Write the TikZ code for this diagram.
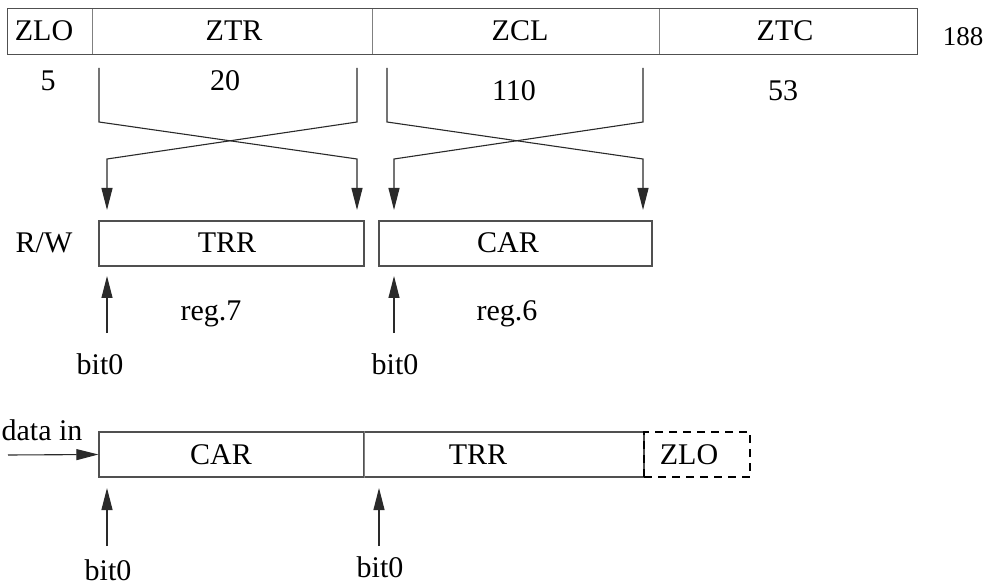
\documentclass[tikz,border=0pt]{standalone}
\usepackage{fontspec}
\setmainfont{Liberation Serif}
\usetikzlibrary{arrows.meta}
\definecolor{boxgray}{HTML}{505050}
\definecolor{divgray}{HTML}{808080}
\definecolor{wiregray}{HTML}{2A2A2A}
\begin{document}
\begin{tikzpicture}[x=1pt,y=-1pt,
  cell/.style={draw=none, inner sep=0pt, minimum height=45pt},
  regbox/.style={draw=boxgray, line width=1.3pt, inner sep=0pt, minimum height=45pt},
  outline/.style={draw=boxgray, line width=1.3pt},
  divider/.style={draw=divgray, line width=1.1pt},
  dashbox/.style={draw=black, line width=1.5pt, dash pattern=on 8pt off 6pt, inner sep=0pt, minimum height=45pt},
  lbl/.style={inner sep=0pt, anchor=base, font=\fontsize{30}{33}\selectfont},
  smalllbl/.style={inner sep=0pt, anchor=base, font=\fontsize{27}{30}\selectfont},
  wire/.style={draw=wiregray, line width=1.1pt},
  arr/.style={wire, -{Triangle[length=22pt,width=11pt]}},
]
\useasboundingbox (0,0) rectangle (985,585);

% top record
\node[cell, minimum width=84pt]  (zlo) at (50,31.5) {};
\node[cell, minimum width=280pt] (ztr) at (232,31.5) {};
\node[cell, minimum width=287pt] (zcl) at (515.5,31.5) {};
\node[cell, minimum width=258pt] (ztc) at (788,31.5) {};
\draw[outline] (zlo.north west) rectangle (ztc.south east);
\draw[divider] (zlo.north east) -- (zlo.south east);
\draw[divider] (ztr.north east) -- (ztr.south east);
\draw[divider] (zcl.north east) -- (zcl.south east);
\node[lbl] (tzlo) at (44,40.5) {ZLO};
\node[lbl] (tztr) at (234,40.5) {ZTR};
\node[lbl] (tzcl) at (520,40.5) {ZCL};
\node[lbl] (tztc) at (785,40.5) {ZTC};
\node[smalllbl] (n188) at (963,46) {188};

% field widths
\node[lbl] (n5)   at (48,91) {5};
\node[lbl] (n20)  at (225,91) {20};
\node[lbl] (n110) at (514,101) {110};
\node[lbl] (n53)  at (783,101) {53};

% registers
\node[regbox, minimum width=265pt] (trr) at (231.5,243.5) {};
\node[regbox, minimum width=273pt] (car) at (515.5,243.5) {};
\node[lbl] (ttrr) at (227,253) {TRR};
\node[lbl] (tcar) at (508,253) {CAR};
\node[lbl] (rw) at (44,253) {R/W};
\node[lbl] (reg7) at (211,320) {reg.7};
\node[lbl] (reg6) at (507,320) {reg.6};

% crossing connectors
\coordinate (a1) at (99,68);
\coordinate (a2) at (357,68);
\coordinate (b1) at (387,68);
\coordinate (b2) at (643,68);
\coordinate (ta1) at (107,210);
\coordinate (ta2) at (357,210);
\coordinate (tb1) at (394,210);
\coordinate (tb2) at (643,210);
\draw[arr] (a1) -- (99,122) -- (357,159) -- (ta2);
\draw[arr] (a2) -- (357,122) -- (107,159) -- (ta1);
\draw[arr] (b1) -- (387,122) -- (643,159) -- (tb2);
\draw[arr] (b2) -- (643,122) -- (394,159) -- (tb1);

% bit0 under registers
\node[lbl] (bitA) at (100,374) {bit0};
\node[lbl] (bitB) at (395,374) {bit0};
\coordinate (uA) at (107,333);
\coordinate (uB) at (394,333);
\draw[arr] (uA) -- (107,276);
\draw[arr] (uB) -- (394,276);

% combined record
\node[regbox, minimum width=265pt] (car2) at (231.5,454.5) {};
\node[regbox, minimum width=280pt] (trr2) at (504,454.5) {};
\node[dashbox, minimum width=106pt] (zlo2) at (697,454.5) {};
\draw[divider] (car2.north east) -- (car2.south east);
\node[lbl] (tcar2) at (221,464) {CAR};
\node[lbl] (ttrr2) at (478,464) {TRR};
\node[lbl] (tzlo2) at (689,464) {ZLO};

\node[lbl] (din) at (42,440) {data in};
\coordinate (dstart) at (8,455);
\draw[arr] (dstart) -- (car2.west);

\node[lbl] (bitC) at (108,580) {bit0};
\node[lbl] (bitD) at (380,577) {bit0};
\coordinate (uC) at (107,546);
\coordinate (uD) at (379,546);
\draw[arr] (uC) -- (107,488);
\draw[arr] (uD) -- (379,488);
\end{tikzpicture}
\end{document}
